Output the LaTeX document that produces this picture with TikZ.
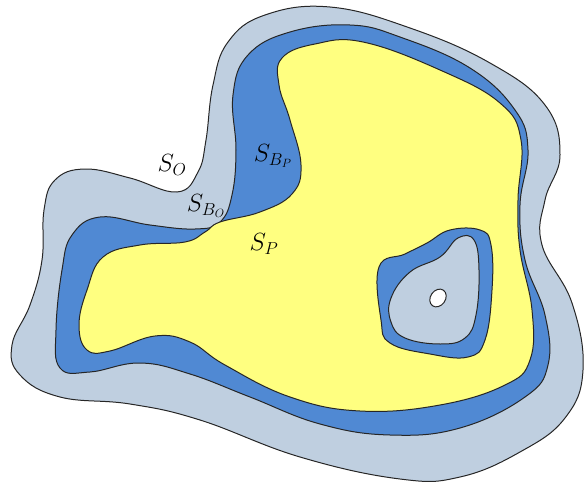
\documentclass[tikz,border=0pt]{standalone}
\usepackage{xcolor}
\definecolor{cOuter}{HTML}{BFCFE0}
\definecolor{cBand}{HTML}{5089D3}
\definecolor{cCore}{HTML}{FFFF80}
\usepackage{tikz}
\usetikzlibrary{positioning}
\tikzset{
  region/.style={draw=black!85,line width=1pt,line join=round},
  region-outer/.style={region,fill=cOuter},
  region-band/.style={region,fill=cBand},
  region-core/.style={region,fill=cCore},
  region-hole/.style={region,fill=white},
  set-label/.style={font=\fontsize{26}{30}\selectfont,inner sep=0pt},
}
\begin{document}
\begin{tikzpicture}[x=1pt,y=-1pt]
  \useasboundingbox (0,0) rectangle (587,482);
  % outer set S_O
  \filldraw[region-outer] plot[smooth cycle,tension=0.7] coordinates {
    (177,192) (130,178) (85,169) (55,180) (44,210) (42,260) (30,305)
    (12,345) (20,375) (60,397) (130,404) (200,420) (300,457) (400,479)
    (460,477) (520,452) (565,418) (583,370) (572,303) (542,245) (545,200)
    (560,155) (545,105) (490,63) (410,28) (330,7) (265,15) (228,42)
    (213,85) (206,140) (198,172)};
  % boundary band
  \filldraw[region-band] plot[smooth cycle,tension=0.7] coordinates {
    (220,222) (232,195) (236,150) (233,95) (248,55) (290,32) (350,25)
    (400,37) (470,68) (515,110) (528,150) (520,205) (525,260) (545,315)
    (548,365) (525,397) (460,428) (390,435) (320,424) (250,397) (190,374)
    (140,363) (90,372) (60,368) (56,330) (62,270) (72,235) (100,217)
    (150,225) (195,229)};
  % core set S_P
  \filldraw[region-core] plot[smooth cycle,tension=0.7] coordinates {
    (220,222) (260,212) (292,194) (301,165) (290,120) (279,85) (282,58)
    (315,44) (363,42) (440,70) (500,103) (521,140) (518,200) (520,250)
    (532,310) (530,360) (505,385) (440,405) (360,411) (290,397) (225,365)
    (190,342) (155,336) (110,351) (87,350) (79,325) (87,290) (103,257)
    (140,245) (185,242) (205,232)};
  % island
  \filldraw[region-band] plot[smooth cycle,tension=0.7] coordinates {
    (379,267) (405,254) (427,243) (450,230) (480,230) (491,245) (492,290)
    (485,340) (468,357) (430,354) (390,343) (381,320)};
  \filldraw[region-outer] plot[smooth cycle,tension=0.7] coordinates {
    (391,298) (410,272) (440,257) (458,238) (474,240) (479,270) (476,315)
    (465,338) (440,344) (405,338) (391,322)};
  \filldraw[region-hole,rotate around={-35:(438,298)}] (438,298) ellipse (7.5 and 9.5);
  % labels
  \node[set-label] (so)  at (172,165) {$S_O$};
  \node[set-label] (sbp) at (273,156) {$S_{B_P}$};
  \node[set-label] (sbo) at (206,206) {$S_{B_O}$};
  \node[set-label] (sp)  at (264,244) {$S_P$};
\end{tikzpicture}
\end{document}
